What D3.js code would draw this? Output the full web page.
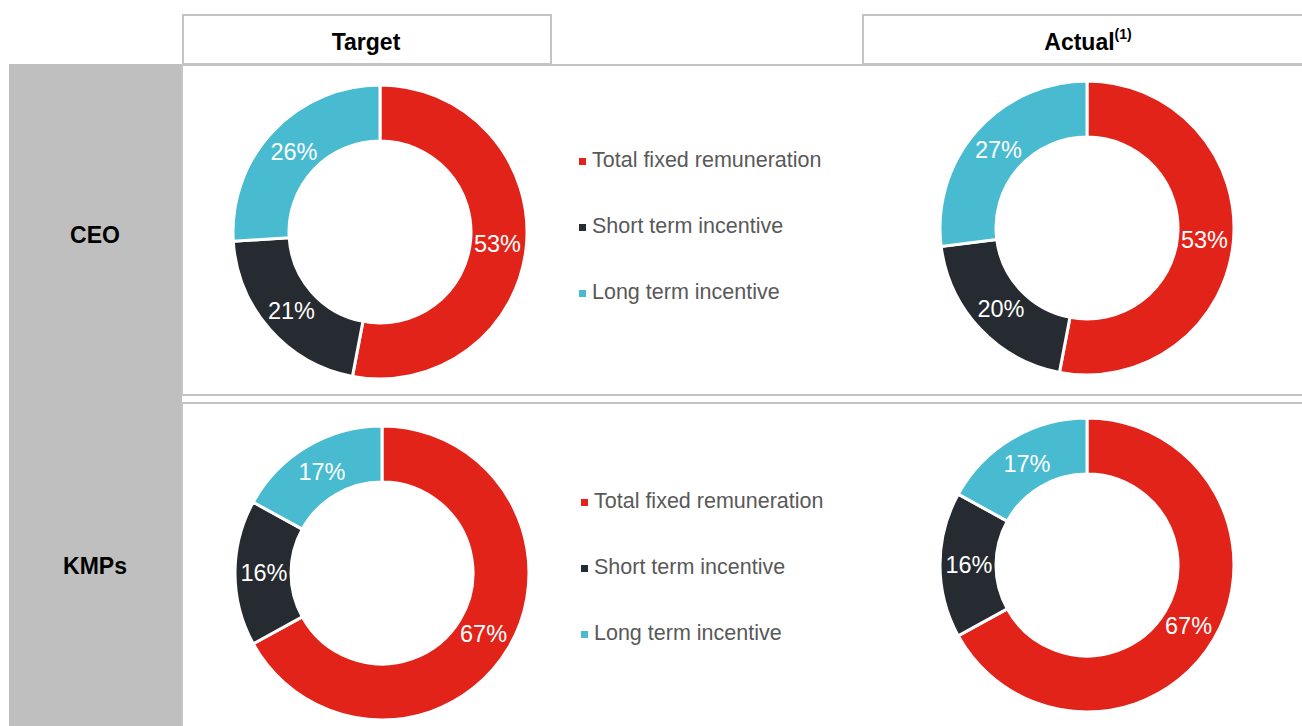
<!DOCTYPE html>
<html>
<head>
<meta charset="utf-8">
<script src="https://cdn.jsdelivr.net/npm/d3@7"></script>
<style>
  body { margin: 0; background: #fff; }
  text { font-family: "Liberation Sans", Arial, sans-serif; }
</style>
</head>
<body>
<div id="canvas"></div>
<script>
"use strict";

// Data
let segments = ["Total fixed remuneration", "Short term incentive", "Long term incentive"];
let segColors = ["#e2231a", "#262a31", "#48bbd0"];
let columns = ["Target", "Actual"];
let rows = ["CEO", "KMPs"];
let ceoTarget = [53, 21, 26];
let ceoActual = [53, 20, 27];
let kmpTarget = [67, 16, 17];
let kmpActual = [67, 16, 17];

// Canvas setup
let svgWidth = 1302;
let svgHeight = 726;
let lineColor = "#c4c4c4";

let svg = d3.select("#canvas")
  .append("svg")
  .attr("width", svgWidth)
  .attr("height", svgHeight)
  .style("display", "block");

// grey row-label column
svg.append("rect")
  .attr("x", 9).attr("y", 64)
  .attr("width", 173).attr("height", svgHeight - 64)
  .attr("fill", "#bfbfbf");

// row panels (top + bottom)
let panels = [{ y: 65, h: 330 }, { y: 403, h: 340 }];
panels.forEach(function(p) {
  svg.append("rect")
    .attr("x", 182).attr("y", p.y)
    .attr("width", svgWidth + 20 - 182).attr("height", p.h)
    .attr("fill", "none")
    .attr("stroke", lineColor)
    .attr("stroke-width", 2);
});

// header boxes
let headers = [
  { x: 183, w: 368, cx: 366 },
  { x: 863, w: 460, cx: 1088 }
];
headers.forEach(function(h, i) {
  svg.append("rect")
    .attr("x", h.x).attr("y", 15)
    .attr("width", h.w).attr("height", 49)
    .attr("fill", "#fff")
    .attr("stroke", lineColor)
    .attr("stroke-width", 2);
  let t = svg.append("text")
    .attr("x", h.cx).attr("y", 50)
    .attr("text-anchor", "middle")
    .style("font-size", "23px")
    .style("font-weight", "700")
    .text(columns[i]);
  if (i == 1) {
    t.append("tspan")
      .attr("dy", -11)
      .style("font-size", "14px")
      .text("(1)");
  }
});

// row labels
let rowY = [243, 574];
rows.forEach(function(r, i) {
  svg.append("text")
    .attr("x", 95).attr("y", rowY[i])
    .attr("text-anchor", "middle")
    .style("font-size", "23px")
    .style("font-weight", "700")
    .text(r);
});

// Donuts
let pie = d3.pie().sort(null).value(function(d) { return d; });
let arc = d3.arc().innerRadius(91).outerRadius(147);
let labelArc = d3.arc().innerRadius(118).outerRadius(118);
let colorScale = d3.scaleOrdinal().domain(segments).range(segColors);

let charts = [
  { values: ceoTarget, cx: 380, cy: 232 },
  { values: ceoActual, cx: 1087, cy: 228 },
  { values: kmpTarget, cx: 382, cy: 573 },
  { values: kmpActual, cx: 1087, cy: 565 }
];

charts.forEach(function(c) {
  let g = svg.append("g")
    .attr("transform", "translate(" + c.cx + "," + c.cy + ")");
  let arcs = pie(c.values);
  g.selectAll("path")
    .data(arcs)
    .enter()
    .append("path")
    .attr("d", arc)
    .attr("fill", function(d, i) { return colorScale(segments[i]); })
    .attr("stroke", "#fff")
    .attr("stroke-width", 3);
  g.selectAll("text")
    .data(arcs)
    .enter()
    .append("text")
    .attr("transform", function(d) { return "translate(" + labelArc.centroid(d) + ")"; })
    .attr("text-anchor", "middle")
    .attr("dy", "0.36em")
    .attr("fill", "#fff")
    .style("font-size", "23.5px")
    .text(function(d) { return d.data + "%"; });
});

// Legends
let legends = [{ x: 579, y: 167 }, { x: 581, y: 508 }];
let legendGap = 66;
legends.forEach(function(l) {
  segments.forEach(function(s, i) {
    svg.append("rect")
      .attr("x", l.x).attr("y", l.y + i * legendGap - 9)
      .attr("width", 7).attr("height", 7)
      .attr("fill", colorScale(s));
    svg.append("text")
      .attr("x", l.x + 13).attr("y", l.y + i * legendGap)
      .attr("fill", "#595959")
      .style("font-size", "21.5px")
      .text(s);
  });
});
</script>
</body>
</html>
